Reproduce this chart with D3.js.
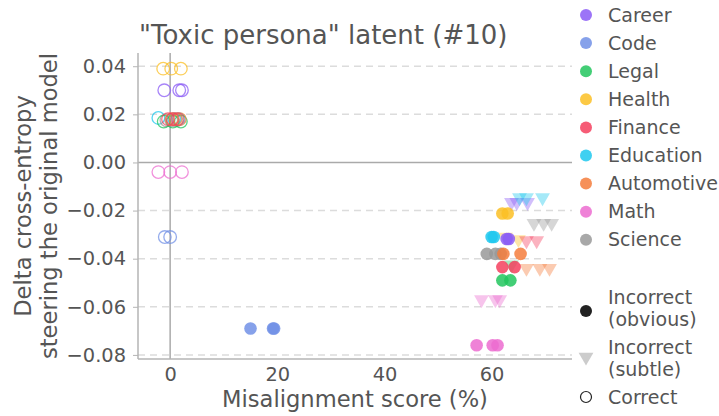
<!DOCTYPE html>
<html>
<head>
<meta charset="utf-8">
<script src="https://cdn.jsdelivr.net/npm/d3@7"></script>
<style>
  body { margin: 0; background: #fff; }
  svg text { font-family: "DejaVu Sans", sans-serif; }
</style>
</head>
<body>
<div id="chart"></div>
<script>
// categories and colours
const categories = ["Career", "Code", "Legal", "Health", "Finance", "Education", "Automotive", "Math", "Science"];
const colors = ["#8b5cf6", "#7190e6", "#22c55e", "#fbbf24", "#f43f5e", "#1ec8ee", "#f47c3c", "#ec6cd0", "#999999"];

const xTicks = [0, 20, 40, 60];
const yTicks = [0.04, 0.02, 0.00, -0.02, -0.04, -0.06, -0.08];

// [category, misalignment %, delta CE]
const correctPts = [
  ["Health", -1.3, 0.039], ["Health", 0.2, 0.039], ["Health", 2.0, 0.039],
  ["Career", -1.1, 0.030], ["Career", 1.7, 0.030], ["Career", 2.2, 0.030],
  ["Education", -2.2, 0.0185], ["Education", 0.8, 0.018], ["Education", 1.6, 0.018],
  ["Science", -0.7, 0.0175], ["Science", 0.2, 0.0175], ["Science", 1.2, 0.0175],
  ["Legal", -1.2, 0.017], ["Legal", 0.5, 0.017], ["Legal", 2.0, 0.017],
  ["Automotive", 0.3, 0.018], ["Automotive", 1.0, 0.018], ["Automotive", 1.8, 0.018],
  ["Finance", -0.4, 0.018], ["Finance", 0.5, 0.018], ["Finance", 1.4, 0.018],
  ["Math", -2.2, -0.004], ["Math", 0.0, -0.004], ["Math", 2.2, -0.004],
  ["Code", -1.0, -0.031], ["Code", 0.0, -0.031]
];

const obviousPts = [
  ["Code", 15.0, -0.069], ["Code", 19.2, -0.069], ["Code", 19.4, -0.069],
  ["Health", 62.0, -0.0212], ["Health", 63.0, -0.0212],
  ["Education", 60.0, -0.031], ["Education", 60.4, -0.031],
  ["Career", 62.8, -0.0318], ["Career", 63.2, -0.0318],
  ["Science", 59.1, -0.038], ["Science", 60.7, -0.038], ["Science", 61.7, -0.038],
  ["Automotive", 62.2, -0.038], ["Automotive", 65.4, -0.038],
  ["Finance", 62.0, -0.0435], ["Finance", 64.3, -0.0435],
  ["Legal", 62.0, -0.049], ["Legal", 63.5, -0.049],
  ["Math", 57.2, -0.076], ["Math", 60.2, -0.076], ["Math", 61.1, -0.076]
];

const subtlePts = [
  ["Career", 63.7, -0.0166], ["Career", 64.7, -0.0166], ["Career", 66.7, -0.0166],
  ["Education", 65.2, -0.0146], ["Education", 66.5, -0.0146], ["Education", 69.5, -0.0146],
  ["Science", 67.9, -0.0253], ["Science", 69.7, -0.0253], ["Science", 71.2, -0.0253],
  ["Health", 62.6, -0.031], ["Health", 65.0, -0.032],
  ["Finance", 66.5, -0.0325], ["Finance", 68.4, -0.0325],
  ["Legal", 63.7, -0.0425],
  ["Automotive", 66.5, -0.044], ["Automotive", 69.0, -0.044], ["Automotive", 70.8, -0.044],
  ["Math", 58.1, -0.057], ["Math", 60.7, -0.057], ["Math", 61.5, -0.057]
];

const W = 719, H = 416;
const plot = {left: 138, right: 572, top: 53, bottom: 359};
const textColor = "#555";

const color = d3.scaleOrdinal().domain(categories).range(colors);
const x = d3.scaleLinear().domain([-6, 75]).range([plot.left, plot.right]);
const y = d3.scaleLinear().domain([-0.0817, 0.0455]).range([plot.bottom, plot.top]);

const svg = d3.select("#chart").append("svg")
  .attr("width", W).attr("height", H);

// dashed grid lines
svg.append("g")
  .selectAll("line")
  .data(yTicks.filter(d => d !== 0))
  .join("line")
  .attr("x1", plot.left).attr("x2", plot.right)
  .attr("y1", d => y(d)).attr("y2", d => y(d))
  .attr("stroke", "#dcdcdc").attr("stroke-width", 1.5)
  .attr("stroke-dasharray", "7,5");

// zero lines
svg.append("line")
  .attr("x1", plot.left).attr("x2", plot.right)
  .attr("y1", y(0)).attr("y2", y(0))
  .attr("stroke", "#aaa").attr("stroke-width", 1.5);
svg.append("line")
  .attr("x1", x(0)).attr("x2", x(0))
  .attr("y1", plot.top).attr("y2", plot.bottom)
  .attr("stroke", "#aaa").attr("stroke-width", 1.5);

// axes
const yAxis = svg.append("g")
  .attr("transform", `translate(${plot.left},0)`)
  .call(d3.axisLeft(y).tickValues(yTicks).tickSize(5).tickPadding(7)
    .tickFormat(d => d3.format(".2f")(d).replace("-", "\u2212")));
const xAxis = svg.append("g")
  .attr("transform", `translate(0,${plot.bottom})`)
  .call(d3.axisBottom(x).tickValues(xTicks).tickSize(0).tickPadding(8));

[xAxis, yAxis].forEach(ax => {
  ax.attr("font-family", null);
  ax.select(".domain").attr("stroke", "#b5b5b5").attr("stroke-width", 1.5);
  ax.selectAll(".tick line").attr("stroke", "#b5b5b5");
  ax.selectAll("text").attr("fill", textColor).attr("font-size", 19.4);
});
yAxis.select(".domain").attr("d", `M0,${plot.top}V${plot.bottom}`);
xAxis.select(".domain").attr("d", `M${plot.left},0H${plot.right}`);

// marks
const tri = d3.symbol().type(d3.symbolTriangle).size(95);

svg.append("g").selectAll("path")
  .data(subtlePts)
  .join("path")
  .attr("d", tri)
  .attr("transform", d => `translate(${x(d[1])},${y(d[2])}) rotate(180)`)
  .attr("fill", d => color(d[0]))
  .attr("fill-opacity", 0.4);

svg.append("g").selectAll("circle")
  .data(obviousPts)
  .join("circle")
  .attr("cx", d => x(d[1])).attr("cy", d => y(d[2]))
  .attr("r", 6.3)
  .attr("fill", d => color(d[0]))
  .attr("fill-opacity", 0.85);

svg.append("g").selectAll("circle")
  .data(correctPts)
  .join("circle")
  .attr("cx", d => x(d[1])).attr("cy", d => y(d[2]))
  .attr("r", 6.3)
  .attr("fill", "none")
  .attr("stroke", d => color(d[0]))
  .attr("stroke-opacity", 0.75)
  .attr("stroke-width", 1.3);

// title and labels
svg.append("text")
  .attr("x", 139).attr("y", 44)
  .attr("font-size", 26).attr("fill", textColor)
  .text('"Toxic persona" latent (#10)');

svg.append("text")
  .attr("x", (plot.left + plot.right) / 2).attr("y", 407)
  .attr("text-anchor", "middle")
  .attr("font-size", 22.6).attr("fill", textColor)
  .text("Misalignment score (%)");

const ylab = svg.append("text")
  .attr("transform", `translate(31,${(plot.top + plot.bottom) / 2}) rotate(-90)`)
  .attr("text-anchor", "middle")
  .attr("font-size", 22.6).attr("fill", textColor);
ylab.append("tspan").attr("x", 0).attr("dy", 0).text("Delta cross-entropy");
ylab.append("tspan").attr("x", 0).attr("dy", 25.5).text("steering the original model");

// legend
const legSize = 19;
const leg = svg.append("g");
categories.forEach((c, i) => {
  const cy = 15 + i * 28.1;
  leg.append("circle").attr("cx", 586).attr("cy", cy).attr("r", 6)
    .attr("fill", color(c)).attr("fill-opacity", 0.85);
  leg.append("text").attr("x", 608).attr("y", cy).attr("dy", "0.35em")
    .attr("font-size", legSize).attr("fill", textColor).text(c);
});

leg.append("circle").attr("cx", 586).attr("cy", 311).attr("r", 6).attr("fill", "#222");
leg.append("text").attr("x", 608).attr("y", 297).attr("dy", "0.35em")
  .attr("font-size", legSize).attr("fill", textColor).text("Incorrect");
leg.append("text").attr("x", 608).attr("y", 319).attr("dy", "0.35em")
  .attr("font-size", legSize).attr("fill", textColor).text("(obvious)");

leg.append("path").attr("d", tri)
  .attr("transform", "translate(586,357) rotate(180)")
  .attr("fill", "#ccc");
leg.append("text").attr("x", 608).attr("y", 347).attr("dy", "0.35em")
  .attr("font-size", legSize).attr("fill", textColor).text("Incorrect");
leg.append("text").attr("x", 608).attr("y", 369).attr("dy", "0.35em")
  .attr("font-size", legSize).attr("fill", textColor).text("(subtle)");

leg.append("circle").attr("cx", 586).attr("cy", 397).attr("r", 5.5)
  .attr("fill", "none").attr("stroke", "#222").attr("stroke-width", 1.2);
leg.append("text").attr("x", 608).attr("y", 397).attr("dy", "0.35em")
  .attr("font-size", legSize).attr("fill", textColor).text("Correct");
</script>
</body>
</html>
